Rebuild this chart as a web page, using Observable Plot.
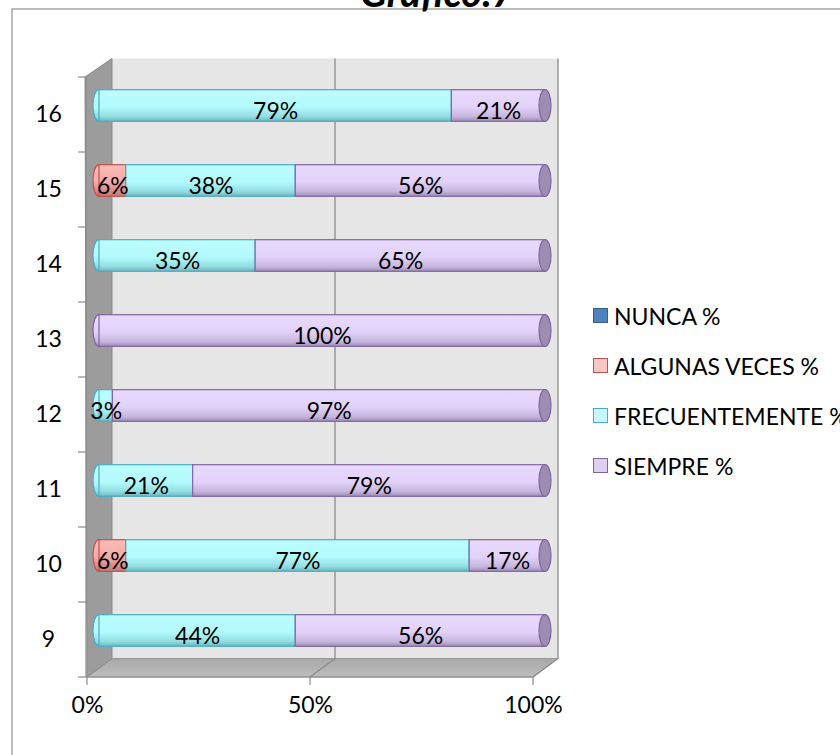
<!DOCTYPE html>
<html>
<head>
<meta charset="utf-8">
<script src="https://cdn.jsdelivr.net/npm/d3@7"></script>
<script src="https://cdn.jsdelivr.net/npm/@observablehq/plot@0.6"></script>
<style>
  html, body { margin: 0; padding: 0; background: #fff; width: 840px; height: 755px; overflow: hidden; }
  #wrap { position: relative; width: 840px; height: 755px; overflow: hidden; font-family: Lato, "Open Sans", sans-serif; }
  #legend { position: absolute; left: 593px; top: 304px; font-size: 23px; color: #000; white-space: nowrap; }
  .item { height: 50px; display: flex; align-items: flex-start; }
  .sw { width: 13px; height: 13px; border: 1.6px solid; margin-top: 4px; margin-right: 6px; box-sizing: content-box; }
  .lbl { line-height: 24px; }
</style>
</head>
<body>
<div id="wrap"></div>
<script>
// ---- data ----
const categories = ["9", "10", "11", "12", "13", "14", "15", "16"];
const seriesNames = ["NUNCA %", "ALGUNAS VECES %", "FRECUENTEMENTE %", "SIEMPRE %"];
const nunca      = [0, 0, 0, 0, 0, 0, 0, 0];
const algunas    = [0, 6, 0, 0, 0, 0, 6, 0];
const frecuente  = [44, 77, 21, 3, 0, 35, 38, 79];
const siempre    = [56, 17, 79, 97, 100, 65, 56, 21];
const xTickValues = [0, 50, 100];
const titleText = "Gráfico.7";

const seriesValues = [nunca, algunas, frecuente, siempre];
const seriesFill = ["url(#gN)", "url(#gA)", "url(#gF)", "url(#gS)"];
const seriesStroke = ["#385d8a", "#c0504d", "#4bacc6", "#8064a2"];
const legendFill = ["#4f81bd", "#fac6c6", "#c9f4fb", "#dccff0"];

// stacked segments
const segments = [];
const rows = [];
categories.forEach((c, i) => {
  let cum = 0, first = null;
  seriesNames.forEach((s, k) => {
    const v = seriesValues[k][i];
    if (v > 0 && first === null) first = k;
    segments.push({cat: c, series: s, k, value: v, x1: cum, x2: cum + v});
    cum += v;
  });
  rows.push({cat: c, total: cum, first});
});

const DX = 12, DY = -9;      // bar depth offset
const INSET = 21.7;

const marks = [];
// left round ends
seriesNames.forEach((s, k) => {
  marks.push(Plot.barX(rows.filter(r => r.first === k), {
    x1: 0, x2: 0, y: "cat", insetLeft: -6, insetRight: -6, insetTop: INSET, insetBottom: INSET,
    rx: 6, ry: 16, dx: DX, dy: DY, fill: seriesFill[k], stroke: seriesStroke[k], strokeWidth: 1.2
  }));
});
// bodies
seriesNames.forEach((s, k) => {
  marks.push(Plot.barX(segments.filter(d => d.k === k && d.value > 0), {
    x1: "x1", x2: "x2", y: "cat", insetTop: INSET, insetBottom: INSET,
    dx: DX, dy: DY, fill: seriesFill[k], stroke: seriesStroke[k], strokeWidth: 1.2
  }));
});
// right caps
marks.push(Plot.barX(rows, {
  x1: "total", x2: "total", y: "cat", insetLeft: -6, insetRight: -6, insetTop: INSET, insetBottom: INSET,
  rx: 6, ry: 16, dx: DX, dy: DY, fill: "#9d8db3", stroke: "#8064a2", strokeWidth: 1.2
}));
// data labels
marks.push(Plot.text(segments.filter(d => d.value > 0), {
  x: d => (d.x1 + d.x2) / 2, y: "cat", text: d => d.value + "%",
  dx: DX, dy: -3, fontSize: 23, fill: "#000"
}));
// category labels
marks.push(Plot.text(categories, {
  y: d => d, text: d => d, frameAnchor: "left", dx: -39, textAnchor: "middle", fontSize: 23, fill: "#000"
}));
// x tick labels
marks.push(Plot.text(xTickValues, {
  x: d => d, text: d => d + "%", frameAnchor: "bottom", dy: 34, fontSize: 23, fill: "#000"
}));
// title (partly cut off at the top, as in the reference)
marks.push(Plot.text([titleText], {
  frameAnchor: "top", dx: 127, dy: -69, lineAnchor: "bottom", fontSize: 40,
  fontWeight: "bold", fontStyle: "italic", fill: "#000"
}));

const chart = Plot.plot({
  width: 840, height: 755,
  marginLeft: 87, marginRight: 307, marginTop: 75, marginBottom: 77,
  style: {fontFamily: "Lato, 'Open Sans', sans-serif", background: "transparent", overflow: "visible"},
  x: {domain: [0, 100], axis: null},
  y: {domain: categories.slice().reverse(), padding: 0, align: 0.5, axis: null},
  marks
});

// ---- gradients & 3D walls, positioned through the plot's scales ----
const svg = d3.select(chart);
const defs = svg.insert("defs", ":first-child");
function grad(id, stops) {
  const g = defs.append("linearGradient").attr("id", id).attr("x1", 0).attr("y1", 0).attr("x2", 0).attr("y2", 1);
  stops.forEach(([o, c]) => g.append("stop").attr("offset", o).attr("stop-color", c));
}
grad("gN", [[0, "#7fa6d6"], [0.6, "#4f81bd"], [1, "#2f5686"]]);
grad("gA", [[0, "#fbbcb8"], [0.55, "#f7aaa6"], [1, "#c07a76"]]);
grad("gF", [[0, "#bcfdff"], [0.55, "#b2fafd"], [0.85, "#92dde2"], [1, "#6cb6bc"]]);
grad("gS", [[0, "#e8dafd"], [0.55, "#e2d2fa"], [0.85, "#c6b6de"], [1, "#9d8db5"]]);
grad("gFloor", [[0, "#a8a8a8"], [1, "#bdbdbd"]]);

const sx = chart.scale("x"), sy = chart.scale("y");
const X = v => sx.apply(v);
const bw = sy.bandwidth;
const yTop = sy.apply(categories[categories.length - 1]);
const yBot = sy.apply(categories[0]) + bw;
const WX = 25, WY = -18.5;

const walls = svg.insert("g", "defs + *");
// outer frame
walls.append("rect").attr("x", 12).attr("y", 9).attr("width", 900).attr("height", 800)
  .attr("fill", "#fff").attr("stroke", "#a6a6a6").attr("stroke-width", 1.5);
// back wall
walls.append("rect").attr("x", X(0) + WX).attr("y", yTop + WY)
  .attr("width", X(100) - X(0)).attr("height", yBot - yTop)
  .attr("fill", "#e6e6e6");
// floor
walls.append("path").attr("d", `M${X(0)},${yBot}L${X(0) + WX},${yBot + WY}L${X(100) + WX},${yBot + WY}L${X(100)},${yBot}Z`)
  .attr("fill", "url(#gFloor)").attr("stroke", "#9a9a9a").attr("stroke-width", 1);
// left wall
walls.append("path").attr("d", `M${X(0) - 2},${yTop}L${X(0) + WX},${yTop + WY}L${X(0) + WX},${yBot + WY}L${X(0)},${yBot}Z`)
  .attr("fill", "#9c9c9c").attr("stroke", "#8a8a8a").attr("stroke-width", 1);
// grid lines (back wall verticals + floor diagonals)
[50, 100].forEach(v => {
  walls.append("path").attr("d", `M${X(v) + WX},${yTop + WY}L${X(v) + WX},${yBot + WY}L${X(v)},${yBot}`)
    .attr("fill", "none").attr("stroke", "#8c8c8c").attr("stroke-width", 1.3);
});
// axis lines and ticks
walls.append("line").attr("x1", X(0) - 1).attr("x2", X(0) - 1).attr("y1", yTop).attr("y2", yBot)
  .attr("stroke", "#8a8a8a").attr("stroke-width", 1.2);
walls.append("line").attr("x1", X(0)).attr("x2", X(100)).attr("y1", yBot).attr("y2", yBot)
  .attr("stroke", "#8a8a8a").attr("stroke-width", 1.2);
categories.forEach(c => {
  const y = sy.apply(c);
  walls.append("line").attr("x1", X(0) - 9).attr("x2", X(0)).attr("y1", y).attr("y2", y)
    .attr("stroke", "#8a8a8a").attr("stroke-width", 1.2);
});
walls.append("line").attr("x1", X(0) - 9).attr("x2", X(0)).attr("y1", yBot).attr("y2", yBot)
  .attr("stroke", "#8a8a8a").attr("stroke-width", 1.2);
xTickValues.forEach(v => {
  walls.append("line").attr("x1", X(v)).attr("x2", X(v)).attr("y1", yBot).attr("y2", yBot + 8)
    .attr("stroke", "#8a8a8a").attr("stroke-width", 1.2);
});

const wrap = document.getElementById("wrap");
wrap.appendChild(chart);

// legend
const legend = document.createElement("div");
legend.id = "legend";
seriesNames.forEach((s, k) => {
  const it = document.createElement("div"); it.className = "item";
  const sw = document.createElement("div"); sw.className = "sw";
  sw.style.background = legendFill[k]; sw.style.borderColor = seriesStroke[k];
  const lb = document.createElement("div"); lb.className = "lbl"; lb.textContent = s;
  it.appendChild(sw); it.appendChild(lb); legend.appendChild(it);
});
wrap.appendChild(legend);
</script>
</body>
</html>
